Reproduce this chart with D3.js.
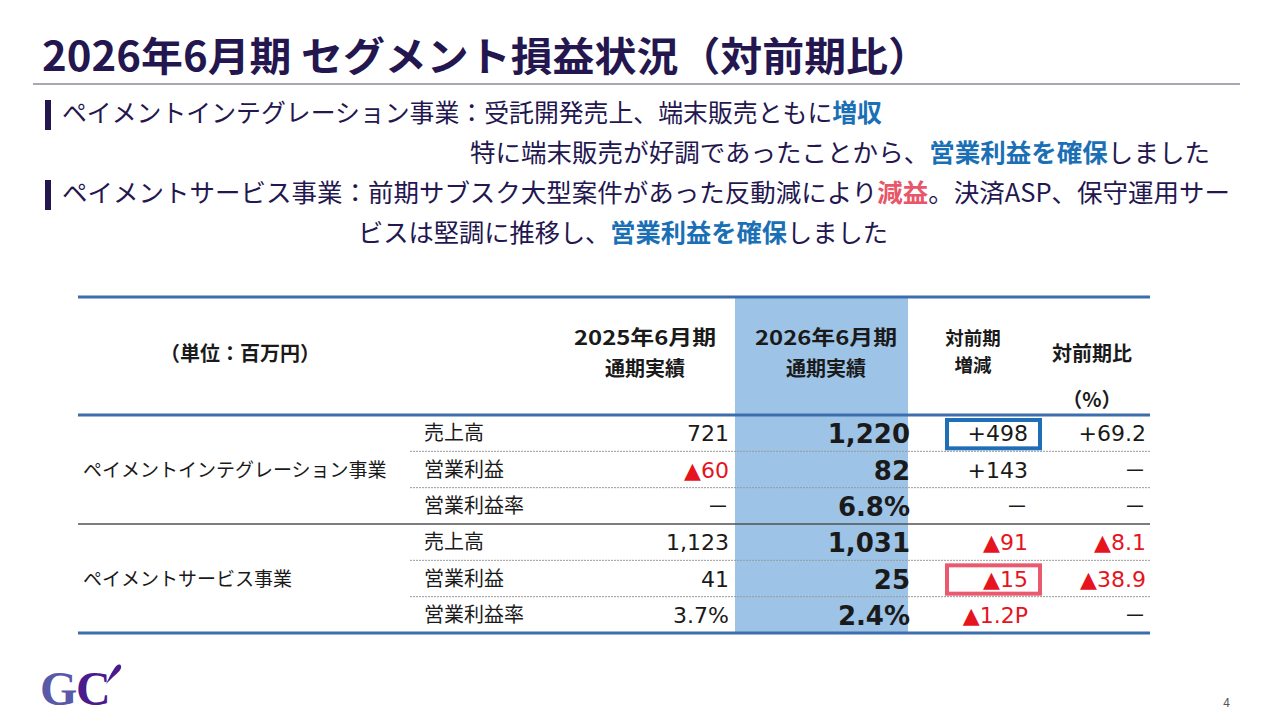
<!DOCTYPE html>
<html>
<head>
<meta charset="utf-8">
<script src="https://cdn.jsdelivr.net/npm/d3@7"></script>
<style>
  html, body { margin: 0; padding: 0; background: #fff; }
  svg text { font-family: "Noto Sans CJK JP", "Noto Sans", sans-serif; }
</style>
</head>
<body>
<div id="chart"></div>
<script>
// ---- data ----
const titleText = '2026年6月期 セグメント損益状況（対前期比）';
const segments = ['ペイメントインテグレーション事業', 'ペイメントサービス事業'];
const metrics = ['売上高', '営業利益', '営業利益率'];
const prevValues = ['721', '▲60', '－', '1,123', '41', '3.7%'];
const currValues = ['1,220', '82', '6.8%', '1,031', '25', '2.4%'];
const diffValues = ['+498', '+143', '－', '▲91', '▲15', '▲1.2P'];
const ratioValues = ['+69.2', '－', '－', '▲8.1', '▲38.9', '－'];
const highlightCells = [{ row: 0, col: 'diff', color: '#1f6fb8' }, { row: 4, col: 'diff', color: '#ea5a6e' }];

// bullet text as runs: [text, colour-key]
const bullets = [
  { lines: [
    { x: 62, len: 820, runs: [['ペイメントインテグレーション事業：受託開発売上、端末販売ともに', 'n'], ['増収', 'b']] },
    { x: 470, len: 740, runs: [['特に端末販売が好調であったことから、', 'n'], ['営業利益を確保', 'b'], ['しました', 'n']] }
  ]},
  { lines: [
    { x: 62, len: 1168, runs: [['ペイメントサービス事業：前期サブスク大型案件があった反動減により', 'n'], ['減益', 'r'], ['。決済ASP、保守運用サー', 'n']] },
    { x: 358, len: 530, runs: [['ビスは堅調に推移し、', 'n'], ['営業利益を確保', 'b'], ['しました', 'n']] }
  ]}
];

const W = 1280, H = 720;
const navy = '#24174f';
const runColor = { n: navy, b: '#1a6fb5', r: '#e8566a' };
const red = '#e5141e';
const numFont = '"DejaVu Sans", "Noto Sans CJK JP", sans-serif';

const svg = d3.select('#chart').append('svg')
  .attr('width', W).attr('height', H);

// title
svg.append('text')
  .attr('x', 42).attr('y', 71)
  .attr('font-size', 40).attr('font-weight', 700)
  .attr('fill', navy)
  .attr('textLength', 888).attr('lengthAdjust', 'spacingAndGlyphs')
  .text(titleText);

svg.append('line')
  .attr('x1', 33).attr('x2', 1240).attr('y1', 84).attr('y2', 84)
  .attr('stroke', '#8c8a9c').attr('stroke-width', 1.5);

// bullets
const bulletY = [122, 202];
bullets.forEach((b, i) => {
  svg.append('rect')
    .attr('x', 45).attr('y', bulletY[i] - 22)
    .attr('width', 6).attr('height', 30)
    .attr('fill', navy);
  b.lines.forEach((ln, j) => {
    const t = svg.append('text')
      .attr('x', ln.x).attr('y', bulletY[i] + j * 40)
      .attr('font-size', 25).attr('fill', navy)
      .attr('textLength', ln.len).attr('lengthAdjust', 'spacingAndGlyphs');
    ln.runs.forEach(r => {
      t.append('tspan')
        .attr('fill', runColor[r[1]])
        .attr('font-weight', r[1] === 'n' ? 400 : 700)
        .text(r[0]);
    });
  });
});

// ---- table ----
const tableLeft = 78, tableRight = 1150;
const headTop = 297, headBottom = 415, tableBottom = 633;
const rowIdx = d3.range(segments.length * metrics.length);
const y = d3.scaleBand().domain(rowIdx).range([headBottom, tableBottom]);
const colRight = { prev: 729, curr: 910, diff: 1028, ratio: 1146 };
const colCenter = { prev: 645, curr: 826, diff: 973, ratio: 1092 };
const currBand = [735, 908];

svg.append('rect')
  .attr('x', currBand[0]).attr('y', headTop)
  .attr('width', currBand[1] - currBand[0]).attr('height', tableBottom - headTop)
  .attr('fill', '#9dc3e6');

// dotted row dividers
rowIdx.forEach(i => {
  if (i % metrics.length === metrics.length - 1) return;
  svg.append('line')
    .attr('x1', 410).attr('x2', tableRight)
    .attr('y1', y(i) + y.bandwidth()).attr('y2', y(i) + y.bandwidth())
    .attr('stroke', '#9a9a9a').attr('stroke-width', 1)
    .attr('stroke-dasharray', '2,1');
});

// segment divider
svg.append('line')
  .attr('x1', tableLeft).attr('x2', tableRight)
  .attr('y1', y(metrics.length)).attr('y2', y(metrics.length))
  .attr('stroke', '#505050').attr('stroke-width', 1.5);

// blue rules
[headTop, headBottom, tableBottom].forEach(yy => {
  svg.append('line')
    .attr('x1', tableLeft).attr('x2', tableRight)
    .attr('y1', yy).attr('y2', yy)
    .attr('stroke', '#3c6eae').attr('stroke-width', 3);
});

// header
const head = svg.append('g').attr('font-weight', 700).attr('fill', '#1a1a1a').attr('font-size', 20);
head.append('text').attr('x', 240).attr('y', 361).attr('text-anchor', 'middle').text('（単位：百万円）');
[['prev', '2025年6月期'], ['curr', '2026年6月期']].forEach(([k, t]) => {
  head.append('text').attr('x', colCenter[k]).attr('y', 345).attr('text-anchor', 'middle')
    .attr('textLength', 142).attr('lengthAdjust', 'spacingAndGlyphs').text(t);
  head.append('text').attr('x', colCenter[k]).attr('y', 376).attr('text-anchor', 'middle').text('通期実績');
});
head.append('text').attr('x', colCenter.diff).attr('y', 345).attr('text-anchor', 'middle')
  .attr('font-size', 18.5).text('対前期');
head.append('text').attr('x', colCenter.diff).attr('y', 372).attr('text-anchor', 'middle')
  .attr('font-size', 18.5).text('増減');
head.append('text').attr('x', colCenter.ratio).attr('y', 361).attr('text-anchor', 'middle').text('対前期比');
head.append('text').attr('x', colCenter.ratio).attr('y', 407).attr('text-anchor', 'middle').text('（%）');

// row labels
segments.forEach((s, si) => {
  svg.append('text')
    .attr('x', 83).attr('y', y(si * metrics.length + 1) + y.bandwidth() / 2 + 7)
    .attr('font-size', 19).attr('fill', '#1a1a1a')
    .text(s);
  metrics.forEach((m, mi) => {
    svg.append('text')
      .attr('x', 424).attr('y', y(si * metrics.length + mi) + y.bandwidth() / 2 + 7)
      .attr('font-size', 20).attr('fill', '#1a1a1a')
      .text(m);
  });
});

// highlight boxes
highlightCells.forEach(h => {
  svg.append('rect')
    .attr('x', colRight[h.col] - 81).attr('y', y(h.row) + 5)
    .attr('width', 93).attr('height', y.bandwidth() - 8)
    .attr('fill', 'none').attr('stroke', h.color).attr('stroke-width', 4);
});

// value cells
const cols = [
  { key: 'prev', vals: prevValues, size: 22, weight: 400 },
  { key: 'curr', vals: currValues, size: 26, weight: 700 },
  { key: 'diff', vals: diffValues, size: 22, weight: 400 },
  { key: 'ratio', vals: ratioValues, size: 22, weight: 400 }
];
cols.forEach(c => {
  svg.append('g').selectAll('text')
    .data(c.vals)
    .join('text')
    .attr('x', colRight[c.key])
    .attr('y', (d, i) => y(i) + y.bandwidth() / 2 + (c.weight === 700 ? 10 : 8))
    .attr('text-anchor', 'end')
    .attr('font-size', c.size)
    .attr('font-weight', c.weight)
    .style('font-family', d => d === '－' ? null : numFont)
    .attr('fill', d => d.startsWith('▲') ? red : '#1a1a1a')
    .text(d => d);
});

// logo
const logo = svg.append('g');
logo.append('text').attr('x', 40).attr('y', 705).attr('font-size', 48).attr('font-weight', 700).attr('fill', '#5a58a8')
  .style('font-family', '"Liberation Serif", serif').text('G');
logo.append('text').attr('x', 76).attr('y', 705).attr('font-size', 48).attr('font-weight', 700).attr('fill', '#4b1b8e')
  .style('font-family', '"Liberation Serif", serif').text('C');
logo.append('path')
  .attr('d', 'M106,684 C109,678 111,673 114,669 C116,665 120,663 121,666 C122,669 118,673 113,677 Z')
  .attr('fill', '#4b1b8e');

svg.append('text')
  .attr('x', 1230).attr('y', 707).attr('text-anchor', 'end')
  .attr('font-size', 12).attr('fill', '#555')
  .text('4');
</script>
</body>
</html>
